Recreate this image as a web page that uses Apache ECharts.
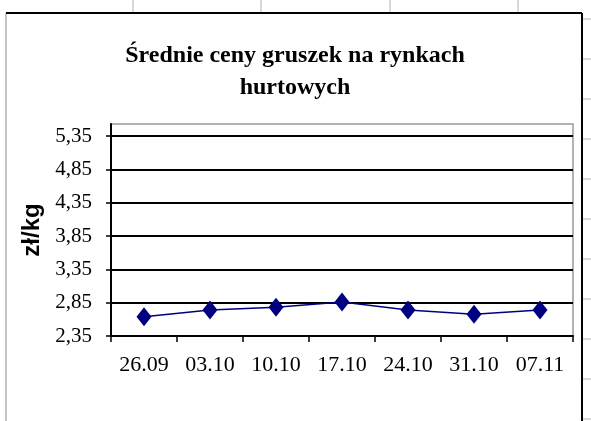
<!DOCTYPE html>
<html>
<head>
<meta charset="utf-8">
<script src="https://cdn.jsdelivr.net/npm/echarts@6/dist/echarts.min.js"></script>
<style>
  html, body { margin: 0; padding: 0; background: #fff; }
  #chart { width: 591px; height: 421px; }
</style>
</head>
<body>
<div id="chart"></div>
<script>
var dates = ['26.09', '03.10', '10.10', '17.10', '24.10', '31.10', '07.11'];
var prices = [2.64, 2.74, 2.78, 2.86, 2.74, 2.675, 2.74];
var yMin = 2.35, yMax = 5.53, yStep = 0.5;

var chart = echarts.init(document.getElementById('chart'));

// spreadsheet cell lines behind the chart object
var cellLines = [];
[133, 261, 390, 518].forEach(function (x) {
    cellLines.push({ type: 'line', shape: { x1: x, y1: 0, x2: x, y2: 12 }, style: { stroke: '#d9d9d9', lineWidth: 2 }, silent: true });
});
for (var y = 19; y < 421; y += 40) {
    cellLines.push({ type: 'line', shape: { x1: 583, y1: y, x2: 591, y2: y }, style: { stroke: '#d9d9d9', lineWidth: 2 }, silent: true });
}
// chart object frame
cellLines.push({ type: 'line', shape: { x1: 6, y1: 13, x2: 6, y2: 421 }, style: { stroke: '#b0b0b0', lineWidth: 1.5 }, silent: true });
cellLines.push({ type: 'line', shape: { x1: 6, y1: 13, x2: 582, y2: 13 }, style: { stroke: '#000', lineWidth: 2 }, silent: true });
cellLines.push({ type: 'line', shape: { x1: 582, y1: 13, x2: 582, y2: 421 }, style: { stroke: '#000', lineWidth: 2 }, silent: true });

var option = {
    animation: false,
    title: {
        text: 'Średnie ceny gruszek na rynkach\nhurtowych',
        left: 290,
        top: 35,
        textAlign: 'center',
        textStyle: {
            fontFamily: 'Liberation Serif',
            fontWeight: 'bold',
            fontSize: 24,
            lineHeight: 32,
            color: '#000'
        }
    },
    graphic: cellLines,
    grid: {
        left: 111,
        right: 18,
        top: 124,
        bottom: 85,
        show: true,
        borderColor: '#999',
        borderWidth: 1.5
    },
    xAxis: {
        type: 'category',
        data: dates,
        boundaryGap: true,
        axisLine: { lineStyle: { color: '#000', width: 2 } },
        axisTick: { show: true, length: 6, interval: 0, lineStyle: { color: '#000', width: 1.5 } },
        axisLabel: {
            interval: 0,
            margin: 18,
            fontFamily: 'Liberation Serif',
            fontSize: 22,
            color: '#000'
        }
    },
    yAxis: {
        type: 'value',
        min: yMin,
        max: yMax,
        interval: yStep,
        name: 'zł/kg',
        nameLocation: 'middle',
        nameRotate: 90,
        nameGap: 60,
        nameTextStyle: {
            fontFamily: 'Liberation Sans',
            fontWeight: 'bold',
            fontSize: 24,
            color: '#000'
        },
        axisLine: { show: true, lineStyle: { color: '#000', width: 2 } },
        axisTick: { show: true, length: 5, lineStyle: { color: '#000', width: 1.5 } },
        splitLine: { show: true, showMinLine: false, showMaxLine: false, lineStyle: { color: '#000', width: 2 } },
        axisLabel: {
            showMaxLabel: false,
            margin: 19,
            fontFamily: 'Liberation Serif',
            fontSize: 21,
            color: '#000',
            formatter: function (v) { return v.toFixed(2).replace('.', ','); }
        }
    },
    series: [{
        type: 'line',
        data: prices,
        symbol: 'diamond',
        symbolSize: [15, 19],
        itemStyle: { color: '#000080' },
        lineStyle: { color: '#000080', width: 1.5 }
    }]
};
chart.setOption(option);
</script>
</body>
</html>
